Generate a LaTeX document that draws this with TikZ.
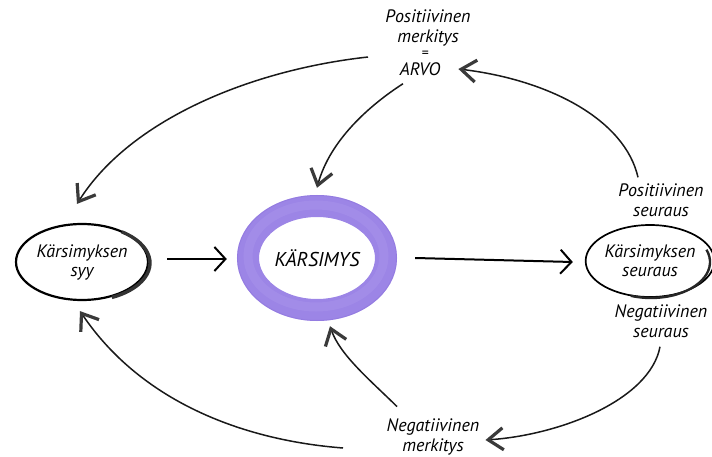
\documentclass[tikz,border=0pt]{standalone}
\usepackage{fontspec}
\setmainfont{PT Sans}
\usetikzlibrary{arrows.meta,shapes.geometric,calc}
\definecolor{ringpurple}{HTML}{9C85E6}
\definecolor{ringlight}{HTML}{AE9AEE}
\definecolor{ringdark}{HTML}{8A70DA}
\definecolor{tipgray}{HTML}{3A3A3A}
\begin{document}
\begin{tikzpicture}[x=1pt,y=-1pt,
  txt/.style={align=center, inner sep=0pt, font=\itshape\fontsize{18}{20}\selectfont},
  oval/.style={draw, ellipse, line width=2.2pt, inner sep=0pt, align=center,
    font=\itshape\fontsize{18}{19}\selectfont},
  flow/.style={line width=2pt, -{Straight Barb[length=11pt,width=24pt,line width=2pt]}},
  loop/.style={line width=1.5pt, black!90,
    -{Straight Barb[length=15pt,width=22pt,line width=3.2pt,color=tipgray]}}]
\useasboundingbox (0,0) rectangle (712,457);

% labels
\node[txt] (posm) at (428,28) {Positiivinen\\merkitys};
\node[txt, font=\itshape\fontsize{14}{14}\selectfont] (eq) at (425,54) {=};
\node[txt] (arvo) at (420,69) {ARVO};
\node[txt] (posseur) at (661,200) {Positiivinen\\seuraus};
\node[txt] (negseur) at (661,321) {Negatiivinen\\seuraus};
\node[txt] (negmerk) at (433,437) {Negatiivinen\\merkitys};

% cause and consequence ovals
\node[oval, minimum width=132pt, minimum height=76pt] (syy) at (82,262) {Kärsimyksen\\syy};
\draw[line width=3.4pt, black!80] ($(syy.center)+(2,1)+(-55:66 and 38)$)
  arc[start angle=-55, end angle=65, x radius=66, y radius=38];
\node[oval, line width=1.7pt, minimum width=118pt, minimum height=72pt] (seur) at (650,261) {Kärsimyksen\\seuraus};
\draw[line width=2.4pt, black!85] ($(seur.center)+(1,1)+(-20:59 and 36)$)
  arc[start angle=-20, end angle=110, x radius=59, y radius=36];

% the purple ring
\node[ellipse, minimum width=160pt, minimum height=122pt, inner sep=0pt,
  font=\itshape\fontsize{20}{20}\selectfont] (kars) at (317,258) {KÄRSIMYS};
\draw[ringpurple, line width=22pt] (kars.center) ellipse[x radius=69, y radius=52];
\draw[ringlight, line width=9pt, opacity=.35] ($(kars.center)+(-1,-2)$) ellipse[x radius=68, y radius=51];
\draw[ringdark, line width=1pt, opacity=.4] (kars.center) ellipse[x radius=79.5, y radius=62.5];

% straight flow
\draw[flow] ($(syy.east)+(18,-3)$) -- ($(kars.west)+(-10,1)$);
\draw[flow] ($(kars.east)+(18,0)$) -- ($(seur.west)+(-12,1)$);

% feedback loops
\coordinate (topstart) at (368,57);
\coordinate (botstart) at (343,448);
\draw[loop] ($(posseur.north)+(-23,-6)$) .. controls (625,120) and (550,80) .. ($(arvo.east)+(18,0)$);
\draw[loop] ($(arvo.south)+(-17,8)$) .. controls (370,105) and (330,140) .. ($(kars.north)+(0,-9)$);
\draw[loop] (topstart) .. controls (250,70) and (130,120) .. ($(syy.north)+(-5,-19)$);
\draw[loop] ($(negseur.south)+(-1,9)$) .. controls (650,400) and (560,435) .. ($(negmerk.east)+(6,3)$);
\draw[loop] ($(negmerk.north)+(-36,-12)$) .. controls (370,380) and (340,355) .. ($(kars.south)+(13,7)$);
\draw[loop] (botstart) .. controls (240,440) and (140,400) .. ($(syy.south)+(-2,10)$);
\end{tikzpicture}
\end{document}
